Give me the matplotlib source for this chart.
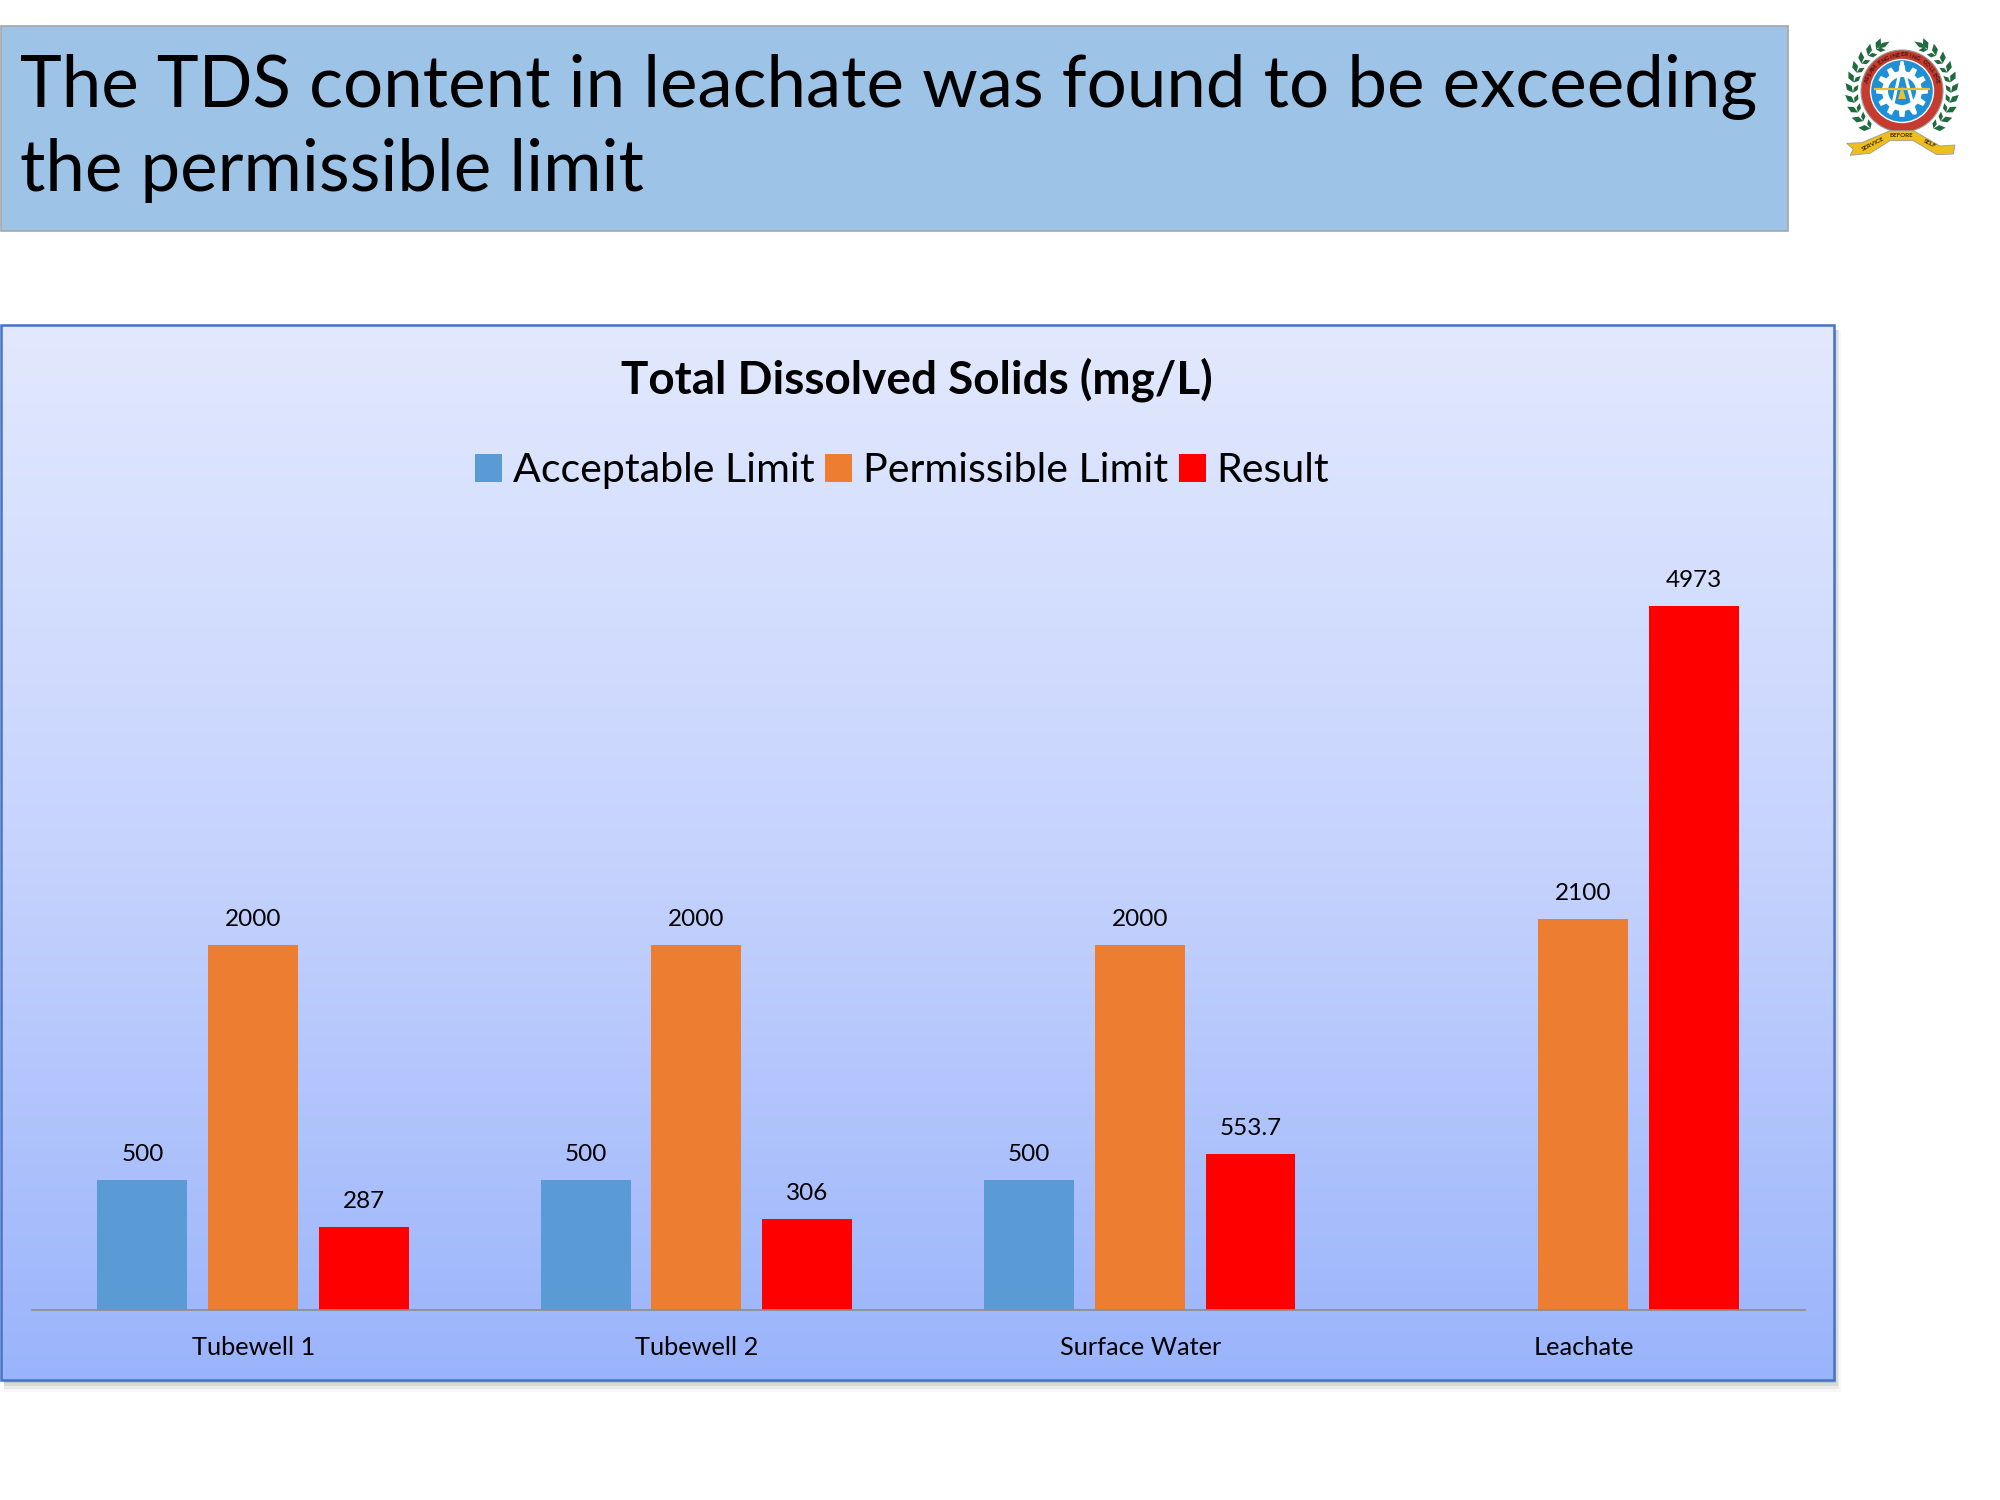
import numpy as np
import matplotlib
matplotlib.use('Agg')
import matplotlib.pyplot as plt
from matplotlib.patches import Rectangle, Circle, Polygon
from matplotlib.colors import LinearSegmentedColormap

plt.rcParams['font.family'] = ['Lato', 'DejaVu Sans']

HEADLINE = ['The TDS content in leachate was found to be exceeding', 'the permissible limit']
CHART_TITLE = 'Total Dissolved Solids (mg/L)'
categories = ['Tubewell 1', 'Tubewell 2', 'Surface Water', 'Leachate']
acceptable = [500, 500, 500, np.nan]
permissible = [2000, 2000, 2000, 2100]
result = [287, 306, 553.7, 4973]
series_names = ['Acceptable Limit', 'Permissible Limit', 'Result']
colors = ['#5B9BD5', '#ED7D31', '#FF0000']

# the source axis is not linear, these are the bar heights read off the picture
scale_values = [0, 287, 306, 500, 553.7, 2000, 2100, 4973]
scale_heights = [0, 83, 91, 130, 156, 365, 391, 704]

W, H = 2000, 1500


def forward(v):
    return np.interp(v, scale_values, scale_heights)


def inverse(h):
    return np.interp(h, scale_heights, scale_values)


def leaf(bg, p0, p1, width):
    # pointed lens between two tips
    p0, p1 = np.array(p0), np.array(p1)
    d = p1 - p0
    n = np.array([-d[1], d[0]]) / np.hypot(*d) * width / 2
    pts = [p0, p0 + 0.5 * d + n, p1, p0 + 0.5 * d - n]
    bg.add_patch(Polygon(pts, fc='#1F6B3E', ec='none', zorder=5))


def polar(cx, cy, r, deg, side=1):
    a = np.radians(deg)
    return (cx + side * r * np.cos(a), cy - r * np.sin(a))


def arc_text(bg, cx, cy, r, txt, start, stop, **kw):
    for ch, deg in zip(txt, np.linspace(start, stop, len(txt))):
        x, y = polar(cx, cy, r, deg)
        bg.text(x, y, ch, rotation=deg - 90, ha='center', va='center', zorder=8, **kw)


def draw_logo(bg):
    cx, cy = 1902, 91
    for side in (-1, 1):
        for deg in np.arange(-50, 60, 12):
            stem = polar(cx, cy, 49, deg, side)
            leaf(bg, stem, polar(cx, cy, 57, deg + 10, side), 6)
            leaf(bg, stem, polar(cx, cy, 44, deg + 10, side), 4.5)
        leaf(bg, polar(cx, cy, 49, 60, side), polar(cx, cy, 51, 76, side), 5)
    bg.add_patch(Circle((cx, cy), 41, fc='#C63B2E', ec='#9A9A9A', lw=0.8, zorder=5))
    bg.add_patch(Circle((cx, cy), 31.5, fc='#1F8FD6', ec='white', lw=1, zorder=6))
    arc_text(bg, cx, cy, 36, 'ASSAM ENGINEERING COLLEGE', 165, 15, fontsize=4.5,
             fontweight='bold', color='#3A1512')
    # gear
    pts = []
    n = 12
    for i in range(n):
        for off, r in ((-0.3, 20), (-0.18, 26), (0.18, 26), (0.3, 20)):
            a = 2 * np.pi * (i + off) / n
            pts.append((cx + r * np.cos(a), cy + r * np.sin(a)))
    bg.add_patch(Polygon(pts, fc='white', ec='none', zorder=6))
    bg.add_patch(Circle((cx, cy), 14, fc='#1F8FD6', ec='none', zorder=6))
    # compass, wings and lamp
    bg.plot([cx, cx - 11], [cy - 28, cy + 22], color='white', lw=2.2, zorder=7)
    bg.plot([cx, cx + 13], [cy - 28, cy + 22], color='white', lw=2.2, zorder=7)
    bg.plot([cx - 27, cx + 27], [cy - 2, cy - 2], color='#E8C233', lw=1.6, zorder=7)
    bg.add_patch(Polygon([(cx - 4, cy + 8), (cx, cy - 5), (cx + 4, cy + 8)], fc='#E8C233', ec='none', zorder=7))
    # ribbon
    zoomed = [(200, 430), (245, 428), (330, 392), (400, 392), (480, 438), (525, 435),
              (520, 462), (470, 464), (400, 422), (330, 422), (270, 460), (210, 466), (220, 448)]
    ribbon = [(1780 + zx / 3, zy / 3) for zx, zy in zoomed]
    bg.add_patch(Polygon(ribbon, fc='#EDBE1C', ec='#9A9A9A', lw=0.6, zorder=7))
    for txt, zx, zy, rot in (('SERVICE', 280, 432, 27), ('BEFORE', 365, 407, 0), ('SELF', 450, 432, -27)):
        bg.text(1780 + zx / 3, zy / 3, txt, rotation=rot, ha='center', va='center', fontsize=4.5,
                fontweight='bold', color='#3A2A00', zorder=8)


fig = plt.figure(figsize=(W / 100, H / 100), dpi=100, facecolor='white')

# page layer in pixels, for the slide furniture
bg = fig.add_axes([0, 0, 1, 1])
bg.set_xlim(0, W)
bg.set_ylim(H, 0)
bg.axis('off')

bg.add_patch(Rectangle((0.5, 25.5), 1787, 205, fc='#9DC3E6', ec='#A6A6A6', lw=1.2))
for line, base in zip(HEADLINE, (107, 191)):
    bg.text(20, base, line, fontsize=51, color='black', va='baseline', ha='left')

# soft shadow of the chart panel
for grow, alpha in ((12, 0.03), (9, 0.05), (6, 0.07), (3, 0.1)):
    bg.add_patch(Rectangle((4, 330), 1830 + grow * 0.6, 1050 + grow, fc='black', ec='none', alpha=alpha))

grad = LinearSegmentedColormap.from_list('panel', ['#E2E9FD', '#C6D3FD', '#9AB4FB'])
bg.imshow(np.linspace(0, 1, 256).reshape(-1, 1), cmap=grad, aspect='auto',
          extent=(1, 1834, 1380, 325), zorder=2)
bg.set_xlim(0, W)
bg.set_ylim(H, 0)
bg.add_patch(Rectangle((1, 325), 1833, 1055, fc='none', ec='#4472C4', lw=1.8, zorder=3))
bg.text(917, 394, CHART_TITLE, fontsize=33, fontweight='bold', ha='center', va='baseline', zorder=4)
draw_logo(bg)

# the chart itself
left, right, base, top = 32, 1805, 1310, 606
ax = fig.add_axes([left / W, 1 - base / H, (right - left) / W, (base - top) / H])
ax.patch.set_visible(False)
ax.set_yscale('function', functions=(forward, inverse))
x = np.arange(len(categories))
bar_w = 0.203
step = 0.25
for i, (name, vals, c) in enumerate(zip(series_names, (acceptable, permissible, result), colors)):
    pos = x + (i - 1) * step - 0.001
    ax.bar(pos, vals, bar_w, color=c, label=name)
    for p, v in zip(pos, vals):
        if np.isnan(v):
            continue
        ax.annotate(f'{v:g}', (p, v), xytext=(0, 14), textcoords='offset points',
                    ha='center', va='baseline', fontsize=17.5, color='black')

ax.set_xlim(-0.5, 3.5)
ax.set_ylim(0, 4973)
ax.set_xticks(x, categories, fontsize=18.3)
ax.set_yticks([])
ax.minorticks_off()
ax.tick_params(axis='x', length=0, pad=18.8)
for s in ('top', 'left', 'right'):
    ax.spines[s].set_visible(False)
ax.spines['bottom'].set_color('#8C8C8C')
ax.spines['bottom'].set_linewidth(1.2)

fig.legend(loc='center', bbox_to_anchor=(902 / W, 1 - 471 / H), ncol=3, frameon=False, fontsize=29.6,
           handlelength=0.65, handleheight=0.65, handletextpad=0.26, columnspacing=0.27)

fig.savefig('out.png', dpi=100)
